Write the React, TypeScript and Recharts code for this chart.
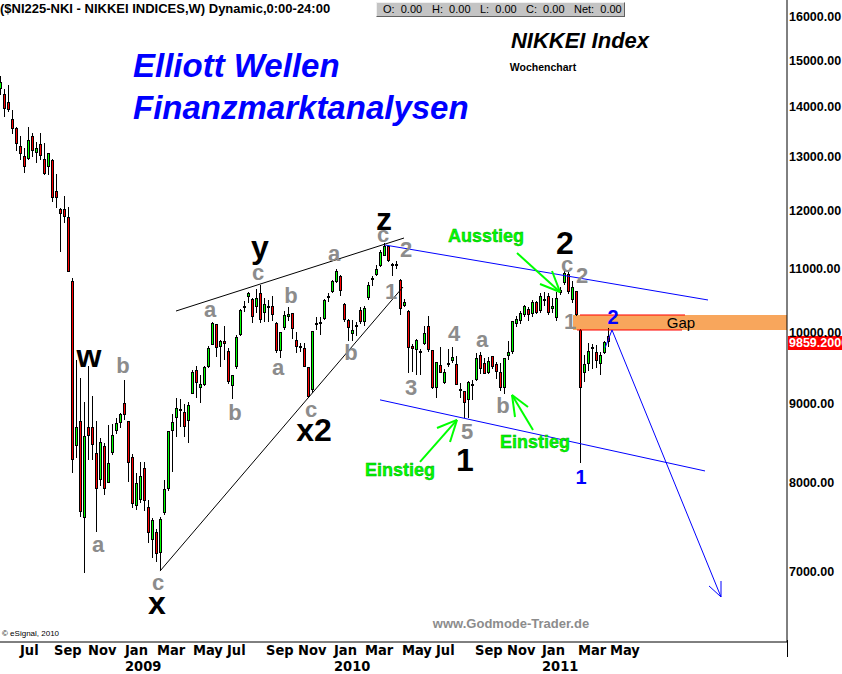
import React from 'react'
import {
  ComposedChart, Bar, XAxis, YAxis, ReferenceLine, ReferenceDot, ReferenceArea,
} from 'recharts'

// weekly candles, index 0 = week ending 2008-06-06, last = week ending 2011-05-06
const opens = [
  14380, 14270, 14100, 13740, 13560, 13200, 13010, 12950, 13400, 13060,
  13240, 12950, 12800, 12930, 12350, 12020, 12020, 11880, 10800, 8440,
  8770, 7580, 8690, 8690, 8360, 8030, 8450, 7990, 8360, 8630,
  8740, 9000, 8760, 8310, 7720, 7790, 8170, 7710, 7340, 7430,
  7200, 7640, 7920, 8630, 8800, 8900, 8880, 8760, 9130, 9450,
  9210, 9250, 9500, 9820, 10120, 9780, 9870, 9730, 9230, 9500,
  9960, 10370, 10550, 10510, 10380, 10600, 10300, 10360, 10400, 10140,
  9730, 10060, 10230, 10290, 9890, 9800, 9770, 9500, 9180, 10100,
  10130, 10200, 10520, 10620, 10780, 10880, 10440, 10190, 9980, 10060,
  10340, 10160, 10530, 10800, 10900, 11040, 11210, 11370, 11050, 11030,
  10820, 10410, 10330, 9800, 9740, 9720, 9830, 10090, 9740, 9210,
  9530, 9280, 9530, 9580, 9540, 9170, 9160, 9040, 9230, 9320,
  9670, 9560, 9410, 9650, 9540, 9430, 9200, 9650, 9720, 10120,
  10180, 10260, 10360, 10280, 10460, 10330, 10480, 10560, 10350, 10220,
  10660, 10770, 10910, 10500, 10630, 10040, 9410, 9540, 9760, 9720,
  9540, 9700, 9950,
]
const highs = [
  14650, 14370, 14460, 13930, 13580, 13400, 13160, 13580, 13460, 13280,
  13460, 13260, 13060, 12940, 12660, 12030, 12260, 12050, 10850, 9600,
  9340, 9020, 9510, 9100, 8770, 8550, 8480, 8710, 8720, 8800,
  8870, 9320, 8760, 8350, 8110, 8250, 8240, 7790, 7580, 7460,
  7600, 8030, 8640, 8850, 9070, 9060, 8990, 9020, 9460, 9510,
  9390, 9520, 9800, 10160, 10130, 9890, 10100, 9770, 9380, 9960,
  10350, 10480, 10620, 10530, 10670, 10740, 10530, 10490, 10560, 10150,
  10010, 10330, 10380, 10300, 10000, 9850, 9850, 9500, 10020, 10230,
  10230, 10510, 10600, 10820, 10990, 10890, 10450, 10200, 10190, 10150,
  10380, 10400, 10780, 10880, 11060, 11310, 11420, 11380, 11090, 11130,
  10830, 10510, 10340, 9830, 9900, 9760, 10090, 10250, 9740, 9570,
  9780, 9470, 9760, 9790, 9650, 9280, 9170, 9300, 9320, 9700,
  9720, 9620, 9640, 9660, 9570, 9550, 9620, 9880, 10180, 10250,
  10330, 10420, 10390, 10500, 10480, 10600, 10620, 10600, 10520, 10620,
  10700, 10990, 10950, 10800, 10640, 10050, 9670, 9840, 9830, 9810,
  9720, 9870, 10060,
]
const lows = [
  14250, 13780, 13890, 13440, 13100, 12930, 12680, 12930, 12990, 12870,
  12930, 12640, 12650, 12150, 12040, 11270, 11770, 10940, 8115, 8300,
  7600, 6990, 8270, 8270, 7430, 7950, 7850, 7990, 8330, 8600,
  8680, 8780, 8000, 7700, 7680, 7760, 7670, 7310, 7150, 7100,
  7020, 7620, 7900, 8120, 8560, 8690, 8560, 8480, 9120, 9070,
  9000, 9240, 9480, 9810, 9640, 9500, 9600, 9260, 9050, 9470,
  9950, 10310, 10450, 10140, 10290, 10140, 10160, 10160, 10170, 9700,
  9630, 10040, 10180, 9900, 9700, 9720, 9500, 9080, 9140, 10030,
  9970, 10190, 10460, 10600, 10760, 10560, 10160, 9870, 9870, 9950,
  10120, 10100, 10500, 10720, 10870, 11030, 11200, 11100, 10880, 10990,
  10260, 10380, 9420, 9430, 9380, 9380, 9810, 9720, 9190, 9070,
  9410, 9260, 9500, 9560, 9250, 9070, 8800, 8800, 9040, 9300,
  9400, 9400, 9400, 9470, 9330, 9170, 9130, 9600, 9690, 10080,
  10130, 10240, 10180, 10230, 10280, 10300, 10400, 10270, 10300, 10180,
  10580, 10740, 10590, 10450, 10250, 8227, 9290, 9440, 9470, 9480,
  9380, 9690, 9790,
]
const closes = [
  14520, 13950, 13930, 13540, 13240, 13040, 12800, 13320, 13100, 13160,
  13010, 12660, 13060, 12220, 12220, 11930, 11880, 10950, 8276, 8690,
  7650, 8570, 8570, 8460, 7920, 8500, 7920, 8230, 8590, 8740,
  8860, 8840, 8230, 7740, 7990, 8080, 7780, 7420, 7560, 7190,
  7570, 7920, 8630, 8750, 8930, 8915, 8690, 8980, 9430, 9280,
  9260, 9500, 9770, 10140, 9770, 9880, 9830, 9290, 9380, 9940,
  10340, 10410, 10600, 10230, 10530, 10190, 10440, 10380, 10270, 9730,
  10010, 10260, 10280, 10050, 9790, 9770, 9500, 9090, 10020, 10120,
  10140, 10500, 10560, 10800, 10960, 10630, 10190, 10070, 10040, 10090,
  10160, 10370, 10730, 10830, 11000, 11280, 11380, 11120, 11030, 11060,
  10360, 10460, 9770, 9760, 9890, 9700, 9990, 9740, 9200, 9570,
  9410, 9430, 9540, 9640, 9250, 9180, 9000, 9290, 9250, 9620,
  9470, 9400, 9590, 9500, 9430, 9200, 9620, 9720, 10170, 10200,
  10290, 10400, 10270, 10460, 10300, 10560, 10500, 10300, 10400, 10530,
  10610, 10930, 10620, 10700, 10270, 9206, 9540, 9730, 9775, 9590,
  9670, 9860, 9859.2,
]

const monthTicks = [5, 13.5, 22, 31.25, 39.25, 48.25, 56.75, 66.5, 74.5, 83.5, 91.25, 100.5, 109, 118.75, 126.75, 135.5, 144.5, 152.5]
const monthLabels = ['Jul', 'Sep', 'Nov', 'Jan', 'Mar', 'May', 'Jul', 'Sep', 'Nov', 'Jan', 'Mar', 'May', 'Jul', 'Sep', 'Nov', 'Jan', 'Mar', 'May']
const yearLabels = ['', '', '', '2009', '', '', '', '', '', '2010', '', '', '', '', '', '2011', '', '']
const priceTicks = [7000, 8000, 9000, 10000, 11000, 12000, 13000, 14000, 15000, 16000]

// Elliott wave counts: [text, week index, price]
const grayLabels: [string, number, number][] = [
  ['a', 24.5, 7287], ['b', 30.75, 9514], ['c', 39.5, 6886],
  ['a', 52.5, 10356], ['b', 58.75, 8870], ['c', 64.5, 10927],
  ['a', 69.5, 9485], ['b', 72.75, 10559], ['c', 77.75, 8910],
  ['a', 83.5, 11257], ['b', 87.75, 9700], ['c', 95.75, 11580],
  ['1', 97.75, 10622], ['2', 101.5, 11324], ['3', 102.75, 9207],
  ['4', 113.5, 9978], ['5', 116.75, 8623], ['a', 120.5, 9889],
  ['b', 125.75, 8976], ['c', 141.75, 11058], ['2', 145.5, 10878],
  ['1', 142.5, 10158],
]
const blackLabels: [string, number, number][] = [
  ['w', 22.25, 9650], ['x', 39.25, 6684], ['y', 65, 11358], ['x2', 78.5, 8648],
  ['z', 96, 11850], ['1', 116.25, 8270], ['2', 141.25, 11426],
]
const blueLabels: [string, number, number][] = [
  ['2', 153.25, 10234], ['1', 145.25, 8064],
]
const greenLabels: [string, number, number][] = [
  ['Ausstieg', 121.5, 11546], ['Einstieg', 100, 8148], ['Einstieg', 133.75, 8495],
]

// trend lines / arrows: [x1, y1, x2, y2]
const blackLines = [
  [44, 10325, 101, 11511],
  [40, 7009, 100.75, 10701],
]
const blueLines = [
  [96.25, 11392, 177, 10496],
  [95, 9045, 176.25, 8136],
  [151.25, 9772, 153, 10037],
  [153, 10037, 180.25, 6744],
  [177.25, 6855, 180.25, 6744],
  [180.25, 6906, 180.25, 6744],
]
const greenLines = [
  [129.25, 11257, 140, 10622], [135, 10749, 140, 10622], [138, 10959, 140, 10622],
  [105, 8246, 114.25, 8779], [109.25, 8674, 114.25, 8779], [112.5, 8495, 114.25, 8779],
  [133.25, 8648, 128, 9111], [132, 8950, 128, 9111], [128.75, 8817, 128, 9111],
]
const gapTop = 10264
const gapBottom = 10037

const data = opens.map((o, i) => ({
  i,
  wick: [lows[i], highs[i]],
  body: [Math.min(o, closes[i]), Math.max(o, closes[i])],
  up: closes[i] >= o,
}))
const lastClose = closes[closes.length - 1]

const ARIAL = 'Arial, "Liberation Sans", sans-serif'
const NARROW = '"Liberation Sans Narrow", "Arial Narrow", "DejaVu Sans Condensed", sans-serif'

const Wick = (p: any) => {
  const cx = Math.round(p.x + p.width / 2)
  return <rect x={cx} y={p.y} width={1} height={Math.max(p.height, 1)} fill="#000" shapeRendering="crispEdges" />
}

const Body = (p: any) => {
  const cx = Math.round(p.x + p.width / 2)
  const h = Math.max(p.height, 2)
  const y = p.height < 2 ? p.y - 1 : p.y
  return (
    <g shapeRendering="crispEdges">
      <rect x={cx - 1} y={y} width={3} height={h} fill="#000" />
      {h > 2 && (
        <rect x={cx} y={y + 1} width={1} height={h - 2} fill={p.payload.up ? '#00ff00' : '#ff0000'} />
      )}
    </g>
  )
}

const MonthTick = ({ x, y, payload }: any) => {
  const k = monthTicks.indexOf(payload.value)
  return (
    <g fontFamily={NARROW} fontWeight="bold" fontSize={14.5} fill="#000">
      <text x={x} y={y + 13} textAnchor="start">{monthLabels[k]}</text>
      {yearLabels[k] && <text x={x} y={y + 29} textAnchor="start">{yearLabels[k]}</text>}
    </g>
  )
}

const textAt = (text: string, style: any, anchor = 'middle') => (p: any) => (
  <text x={p.cx} y={p.cy} textAnchor={anchor} dominantBaseline="central" fontFamily={ARIAL} {...style}>
    {text}
  </text>
)

const PriceTag = (p: any) => (
  <g>
    <rect x={p.cx + 1} y={p.cy - 6} width={60} height={14} fill="#ff0000" />
    <text x={p.cx + 2} y={p.cy + 5} fontFamily={ARIAL} fontWeight="bold" fontSize={12.5} fill="#fff">
      {lastClose.toFixed(4)}
    </text>
  </g>
)

export default function App() {
  return (
    <div style={{ position: 'absolute', left: 0, top: 0, width: 842, height: 674, background: '#fff', overflow: 'hidden' }}>
      <ComposedChart width={842} height={674} data={data} margin={{ top: 0, right: 0, bottom: 0, left: 0 }}>
        <XAxis
          xAxisId={0}
          dataKey="i"
          type="number"
          domain={[0, 196.75]}
          allowDataOverflow
          ticks={monthTicks}
          interval={0}
          height={32}
          tickSize={0}
          tickMargin={0}
          tickLine={false}
          axisLine={{ stroke: '#000' }}
          tick={<MonthTick />}
        />
        <XAxis xAxisId="b" dataKey="i" type="number" domain={[0, 196.75]} allowDataOverflow hide />
        <YAxis
          orientation="right"
          scale="log"
          domain={[6306, 16410]}
          allowDataOverflow
          ticks={priceTicks}
          interval={0}
          width={55}
          tickSize={0}
          tickMargin={2}
          tickLine={false}
          axisLine={{ stroke: '#000' }}
          tickFormatter={(v: number) => v.toFixed(2)}
          tick={{ fontSize: 12.5, fontWeight: 'bold', fill: '#000', fontFamily: ARIAL }}
        />

        <ReferenceArea x1={143.25} x2={196.75} y1={gapBottom} y2={gapTop} fill="#f8a65c" fillOpacity={1} stroke="none" />

        <Bar dataKey="wick" xAxisId={0} barSize={1} shape={<Wick />} isAnimationActive={false} />
        <Bar dataKey="body" xAxisId="b" barSize={3} shape={<Body />} isAnimationActive={false} />

        <ReferenceLine segment={[{ x: 145, y: gapTop }, { x: 171.25, y: gapTop }]} stroke="#ff0000" strokeWidth={1} />
        <ReferenceLine segment={[{ x: 144.25, y: gapBottom }, { x: 170.5, y: gapBottom }]} stroke="#ff0000" strokeWidth={1} />

        {blackLines.map((s, k) => (
          <ReferenceLine key={'k' + k} segment={[{ x: s[0], y: s[1] }, { x: s[2], y: s[3] }]} stroke="#000" strokeWidth={1} />
        ))}
        {blueLines.map((s, k) => (
          <ReferenceLine key={'b' + k} segment={[{ x: s[0], y: s[1] }, { x: s[2], y: s[3] }]} stroke="#0000ff" strokeWidth={1} />
        ))}
        {greenLines.map((s, k) => (
          <ReferenceLine key={'g' + k} segment={[{ x: s[0], y: s[1] }, { x: s[2], y: s[3] }]} stroke="#00ff00" strokeWidth={2} />
        ))}

        {grayLabels.map(([t, x, y], k) => (
          <ReferenceDot key={'gl' + k} x={x} y={y} r={0} shape={textAt(t, { fontSize: 22, fontWeight: 'bold', fill: '#8c8c8c' })} />
        ))}
        {blackLabels.map(([t, x, y], k) => (
          <ReferenceDot key={'bl' + k} x={x} y={y} r={0} shape={textAt(t, { fontSize: 32, fontWeight: 'bold', fill: '#000' })} />
        ))}
        {blueLabels.map(([t, x, y], k) => (
          <ReferenceDot key={'ul' + k} x={x} y={y} r={0} shape={textAt(t, { fontSize: 20, fontWeight: 'bold', fill: '#0000ff' })} />
        ))}
        {greenLabels.map(([t, x, y], k) => (
          <ReferenceDot key={'nl' + k} x={x} y={y} r={0} shape={textAt(t, { fontSize: 18, fontWeight: 'bold', fill: '#00ff00', stroke: '#00a000', strokeWidth: 0.4 })} />
        ))}

        <ReferenceDot x={170.25} y={10143} r={0} shape={textAt('Gap', { fontSize: 15, fill: '#000' })} />
        <ReferenceDot x={33.25} y={14874} r={0} shape={textAt('Elliott Wellen', { fontSize: 33, fontWeight: 'bold', fontStyle: 'italic', fill: '#0000ff' }, 'start')} />
        <ReferenceDot x={33.25} y={13992} r={0} shape={textAt('Finanzmarktanalysen', { fontSize: 33, fontWeight: 'bold', fontStyle: 'italic', fill: '#0000ff' }, 'start')} />
        <ReferenceDot x={145} y={15438} r={0} shape={textAt('NIKKEI Index', { fontSize: 22, fontWeight: 'bold', fontStyle: 'italic', fill: '#000' })} />
        <ReferenceDot x={135.75} y={14852} r={0} shape={textAt('Wochenchart', { fontSize: 10.5, fontWeight: 'bold', fill: '#000' })} />
        <ReferenceDot x={127.75} y={6478} r={0} shape={textAt('www.Godmode-Trader.de', { fontSize: 13, fontWeight: 'bold', fill: '#8c8c8c' })} />
        <ReferenceDot x={0.5} y={6382} r={0} shape={textAt('© eSignal, 2010', { fontSize: 8, fill: '#000' }, 'start')} />

        <ReferenceDot x={196.75} y={lastClose} r={0} shape={<PriceTag />} />
      </ComposedChart>

      <div style={{ position: 'absolute', left: 0, top: 1, fontFamily: ARIAL, fontWeight: 'bold', fontSize: 13, lineHeight: '16px', color: '#000', whiteSpace: 'nowrap' }}>
        ($NI225-NKI - NIKKEI INDICES,W) Dynamic,0:00-24:00
      </div>
      <div style={{
        position: 'absolute', left: 376, top: 2, width: 247, height: 13, background: '#c4c4c4',
        borderStyle: 'solid', borderWidth: 1, borderColor: '#f0f0f0 #606060 #606060 #f0f0f0',
        fontFamily: ARIAL, fontSize: 11, lineHeight: '13px', color: '#000',
      }}>
        {[['O:', 6], ['H:', 55], ['L:', 103], ['C:', 149], ['Net:', 197]].map(([k, left]) => (
          <span key={k as string} style={{ position: 'absolute', left: left as number, top: 0, whiteSpace: 'pre' }}>{k}  0.00</span>
        ))}
      </div>
      <div style={{ position: 'absolute', left: 787, top: 640, width: 1, height: 17, background: '#000' }} />
    </div>
  )
}
